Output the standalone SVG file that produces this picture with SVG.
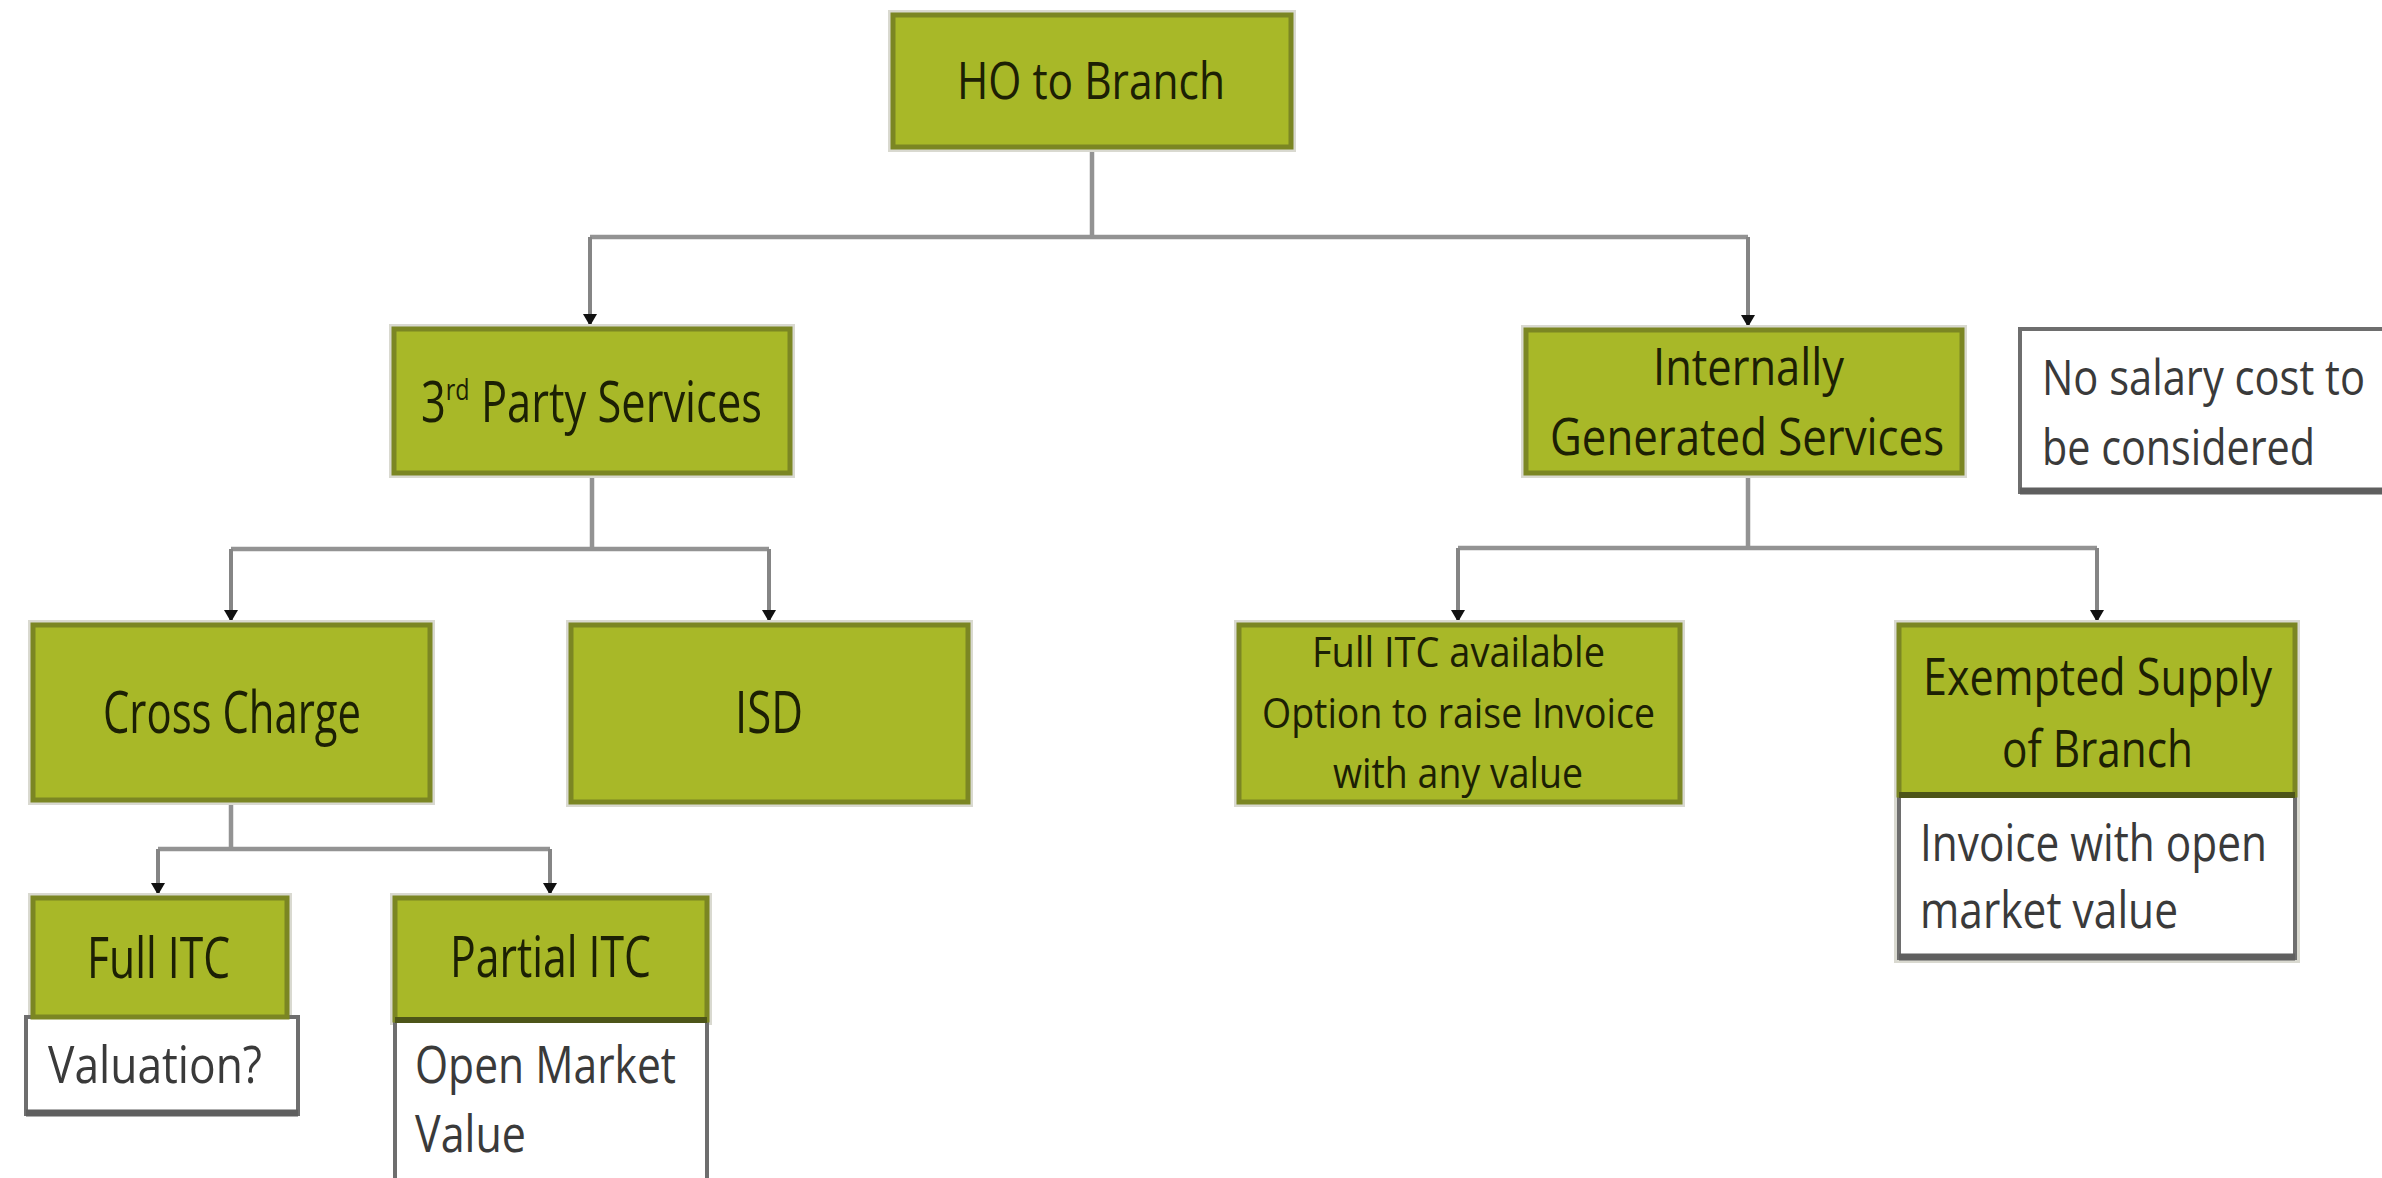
<svg xmlns="http://www.w3.org/2000/svg" width="2382" height="1178" viewBox="0 0 2382 1178">
  <style>
    .bg { fill: #ffffff; }
    .halo { fill: none; stroke: #d9d9d0; stroke-width: 10; }
    .green { fill: #a8b828; stroke: #7b8623; stroke-width: 5; }
    .note { fill: #ffffff; stroke: #6e6e6e; stroke-width: 4; }
    .base { stroke: #5f5f5f; stroke-width: 7; }
    .split { stroke: #4d5518; stroke-width: 6; }
    .lbl { font-family: "Open Sans", "Liberation Sans", sans-serif; fill: #1c2004; }
    .txt { font-family: "Open Sans", "Liberation Sans", sans-serif; fill: #3a3a3a; }
    .wire { fill: none; stroke: #939393; stroke-width: 4.5; stroke-linejoin: miter; }
    .drop { fill: none; stroke: #858585; stroke-width: 4; marker-end: url(#tip); }
  </style>
  <defs>
    <marker id="tip" markerUnits="userSpaceOnUse" markerWidth="14" markerHeight="16" refX="13" refY="7" orient="auto" viewBox="0 0 14 14">
      <path d="M0,0 L12,7 L0,14 z" fill="#111111"/>
    </marker>
  </defs>

  <rect class="bg" x="0" y="0" width="2382" height="1178"/>

  <!-- connectors -->
  <g id="connectors">
    <!-- HO to Branch -> level 2 -->
    <path class="wire" d="M1092,147 V237 M590,237 H1748"/>
    <path class="drop" d="M590,237 V327"/>
    <path class="drop" d="M1748,237 V328"/>
    <!-- 3rd Party Services -> Cross Charge / ISD -->
    <path class="wire" d="M592,473 V549 M231,549 H769"/>
    <path class="drop" d="M231,549 V623"/>
    <path class="drop" d="M769,549 V623"/>
    <!-- Internally Generated Services -> children -->
    <path class="wire" d="M1748,473 V548 M1458,548 H2097"/>
    <path class="drop" d="M1458,548 V623"/>
    <path class="drop" d="M2097,548 V623"/>
    <!-- Cross Charge -> ITC cases -->
    <path class="wire" d="M231,800 V849 M158,849 H550"/>
    <path class="drop" d="M158,849 V896"/>
    <path class="drop" d="M550,849 V896"/>
  </g>

  <!-- root -->
  <g id="node-ho">
    <rect class="halo" x="893" y="15" width="398" height="132"/>
    <rect class="green" x="893" y="15" width="398" height="132"/>
    <text class="lbl" x="957" y="99" font-size="52" textLength="268" lengthAdjust="spacingAndGlyphs">HO to Branch</text>
  </g>

  <g id="node-third-party">
    <rect class="halo" x="394" y="329" width="396" height="144"/>
    <rect class="green" x="394" y="329" width="396" height="144"/>
    <text class="lbl" x="421" y="422" font-size="56" textLength="341" lengthAdjust="spacingAndGlyphs">3<tspan font-size="30" dy="-22">rd</tspan><tspan dy="22"> Party Services</tspan></text>
  </g>

  <g id="node-internal">
    <rect class="halo" x="1526" y="330" width="436" height="143"/>
    <rect class="green" x="1526" y="330" width="436" height="143"/>
    <text class="lbl" x="1653" y="385" font-size="52" textLength="191" lengthAdjust="spacingAndGlyphs">Internally</text>
    <text class="lbl" x="1550" y="455" font-size="52" textLength="394" lengthAdjust="spacingAndGlyphs">Generated Services</text>
  </g>

  <g id="node-salary-note">
    <rect class="note" x="2020" y="329" width="380" height="163"/>
    <line class="base" x1="2020" y1="491" x2="2382" y2="491"/>
    <text class="txt" x="2042" y="395" font-size="50" textLength="323" lengthAdjust="spacingAndGlyphs">No salary cost to</text>
    <text class="txt" x="2042" y="465" font-size="50" textLength="273" lengthAdjust="spacingAndGlyphs">be considered</text>
  </g>

  <g id="node-cross-charge">
    <rect class="halo" x="33" y="625" width="397" height="175"/>
    <rect class="green" x="33" y="625" width="397" height="175"/>
    <text class="lbl" x="103" y="733" font-size="58" textLength="258" lengthAdjust="spacingAndGlyphs">Cross Charge</text>
  </g>

  <g id="node-isd">
    <rect class="halo" x="571" y="625" width="397" height="177"/>
    <rect class="green" x="571" y="625" width="397" height="177"/>
    <text class="lbl" x="735" y="733" font-size="58" textLength="68" lengthAdjust="spacingAndGlyphs">ISD</text>
  </g>

  <g id="node-full-itc-available">
    <rect class="halo" x="1239" y="625" width="441" height="177"/>
    <rect class="green" x="1239" y="625" width="441" height="177"/>
    <text class="lbl" x="1312" y="667" font-size="42" textLength="293" lengthAdjust="spacingAndGlyphs">Full ITC available</text>
    <text class="lbl" x="1262" y="728" font-size="42" textLength="393" lengthAdjust="spacingAndGlyphs">Option to raise Invoice</text>
    <text class="lbl" x="1333" y="788" font-size="42" textLength="250" lengthAdjust="spacingAndGlyphs">with any value</text>
  </g>

  <g id="node-exempted">
    <rect class="halo" x="1899" y="625" width="396" height="333"/>
    <rect class="note" x="1899" y="795" width="396" height="163"/>
    <line class="base" x1="1899" y1="957" x2="2295" y2="957"/>
    <rect class="green" x="1899" y="625" width="396" height="170"/>
    <line class="split" x1="1899" y1="795" x2="2295" y2="795"/>
    <text class="lbl" x="1923" y="695" font-size="52" textLength="349" lengthAdjust="spacingAndGlyphs">Exempted Supply</text>
    <text class="lbl" x="2002" y="767" font-size="52" textLength="191" lengthAdjust="spacingAndGlyphs">of Branch</text>
    <text class="txt" x="1920" y="861" font-size="52" textLength="347" lengthAdjust="spacingAndGlyphs">Invoice with open</text>
    <text class="txt" x="1920" y="928" font-size="52" textLength="258" lengthAdjust="spacingAndGlyphs">market value</text>
  </g>

  <g id="node-full-itc">
    <rect class="halo" x="33" y="898" width="254" height="119"/>
    <rect class="note" x="26" y="1017" width="272" height="97"/>
    <line class="base" x1="26" y1="1113" x2="298" y2="1113"/>
    <rect class="green" x="33" y="898" width="254" height="119"/>
    <text class="lbl" x="87" y="978" font-size="56" textLength="143" lengthAdjust="spacingAndGlyphs">Full ITC</text>
    <text class="txt" x="48" y="1083" font-size="52" textLength="214" lengthAdjust="spacingAndGlyphs">Valuation?</text>
  </g>

  <g id="node-partial-itc">
    <rect class="halo" x="395" y="898" width="312" height="122"/>
    <rect class="note" x="395" y="1020" width="312" height="170"/>
    <rect class="green" x="395" y="898" width="312" height="122"/>
    <line class="split" x1="395" y1="1020" x2="707" y2="1020"/>
    <text class="lbl" x="450" y="977" font-size="56" textLength="201" lengthAdjust="spacingAndGlyphs">Partial ITC</text>
    <text class="txt" x="415" y="1083" font-size="52" textLength="261" lengthAdjust="spacingAndGlyphs">Open Market</text>
    <text class="txt" x="415" y="1152" font-size="52" textLength="111" lengthAdjust="spacingAndGlyphs">Value</text>
  </g>
</svg>
